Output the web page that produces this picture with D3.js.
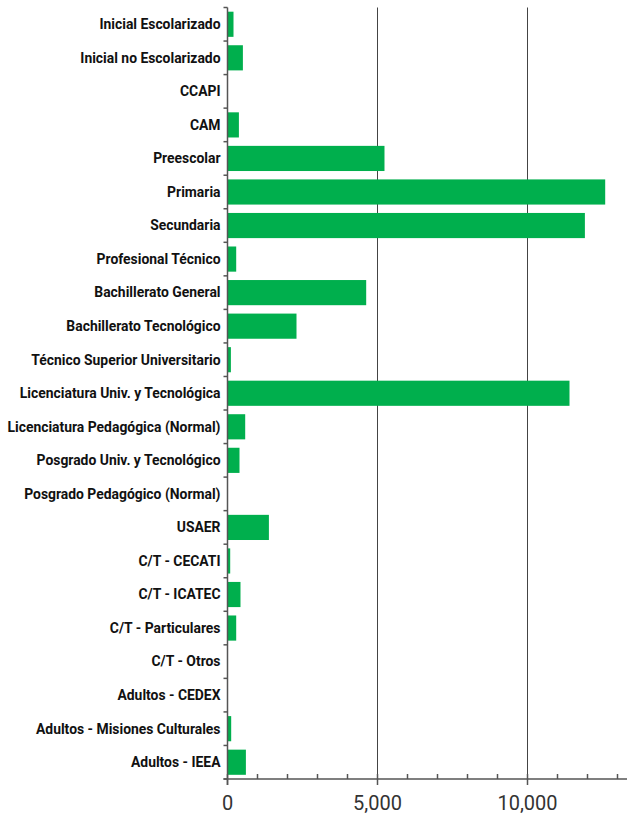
<!DOCTYPE html>
<html>
<head>
<meta charset="utf-8">
<script src="https://cdn.jsdelivr.net/npm/d3@7"></script>
<style>
  body { margin: 0; background: #fff; }
  .cat-label { font-family: Roboto, sans-serif; font-weight: 700; font-size: 13.9px; fill: #111; }
  .tick-label { font-family: Roboto, sans-serif; font-size: 20px; fill: #333; }
</style>
</head>
<body>
<svg width="627" height="814"></svg>
<script>
var categories = [
  "Inicial Escolarizado", "Inicial no Escolarizado", "CCAPI", "CAM", "Preescolar",
  "Primaria", "Secundaria", "Profesional Técnico", "Bachillerato General",
  "Bachillerato Tecnológico", "Técnico Superior Universitario",
  "Licenciatura Univ. y Tecnológica", "Licenciatura Pedagógica (Normal)",
  "Posgrado Univ. y Tecnológico", "Posgrado Pedagógico (Normal)", "USAER",
  "C/T - CECATI", "C/T - ICATEC", "C/T - Particulares", "C/T - Otros",
  "Adultos - CEDEX", "Adultos - Misiones Culturales", "Adultos - IEEA"
];
var values = [
  200, 513, 0, 380, 5233,
  12590, 11913, 290, 4623,
  2300, 113,
  11400, 590,
  400, 0, 1380,
  90, 433, 290, 0,
  0, 123, 613
];
var majorTicks = [0, 5000, 10000];
var minorTicks = d3.range(0, 14000, 1000);

var svg = d3.select('svg');
var axisColor = "#555";

var xScale = d3.scaleLinear()
  .domain([0, 13300])
  .range([227.5, 626.5]);

var yScale = d3.scaleBand()
  .domain(categories)
  .range([7.5, 779])
  .padding(0);

var x0 = xScale(0), yBottom = yScale.range()[1];

// gridlines
svg.selectAll('.grid')
  .data(majorTicks.slice(1))
  .enter().append('line')
  .attr('x1', d => xScale(d)).attr('x2', d => xScale(d))
  .attr('y1', 7.5).attr('y2', yBottom)
  .attr('stroke', '#444').attr('stroke-width', 1);

// bars
var inset = yScale.bandwidth() * 0.125;
svg.selectAll('.bar')
  .data(values)
  .enter().append('rect')
  .attr('class', 'bar')
  .attr('x', x0)
  .attr('y', (d, i) => yScale(categories[i]) + inset)
  .attr('width', d => xScale(d) - x0)
  .attr('height', yScale.bandwidth() - 2 * inset)
  .attr('fill', '#00af4d');

// category labels
svg.selectAll('.cat-label')
  .data(categories)
  .enter().append('text')
  .attr('class', 'cat-label')
  .attr('x', x0 - 7)
  .attr('y', d => yScale(d) + yScale.bandwidth() / 2)
  .attr('dy', '0.35em')
  .attr('text-anchor', 'end')
  .text(d => d);

// y axis line + ticks at band boundaries
svg.append('line')
  .attr('x1', x0).attr('x2', x0)
  .attr('y1', 7.5).attr('y2', yBottom + 6)
  .attr('stroke', axisColor).attr('stroke-width', 1.5);

var bounds = categories.map(c => yScale(c)).concat([yBottom]);
svg.selectAll('.ytick')
  .data(bounds)
  .enter().append('line')
  .attr('x1', x0 - 4).attr('x2', x0)
  .attr('y1', d => d).attr('y2', d => d)
  .attr('stroke', axisColor).attr('stroke-width', 1.5);

// x axis
svg.append('line')
  .attr('x1', x0 - 4).attr('x2', 627)
  .attr('y1', yBottom).attr('y2', yBottom)
  .attr('stroke', axisColor).attr('stroke-width', 1.5);

svg.selectAll('.minor')
  .data(minorTicks)
  .enter().append('line')
  .attr('x1', d => xScale(d)).attr('x2', d => xScale(d))
  .attr('y1', yBottom - 5).attr('y2', yBottom)
  .attr('stroke', axisColor).attr('stroke-width', 1.5);

svg.selectAll('.major')
  .data(majorTicks)
  .enter().append('line')
  .attr('x1', d => xScale(d)).attr('x2', d => xScale(d))
  .attr('y1', yBottom).attr('y2', yBottom + 6)
  .attr('stroke', axisColor).attr('stroke-width', 1.5);

svg.selectAll('.tick-label')
  .data(majorTicks)
  .enter().append('text')
  .attr('class', 'tick-label')
  .attr('x', d => xScale(d))
  .attr('y', 810)
  .attr('text-anchor', 'middle')
  .text(d => d3.format(',')(d));
</script>
</body>
</html>
